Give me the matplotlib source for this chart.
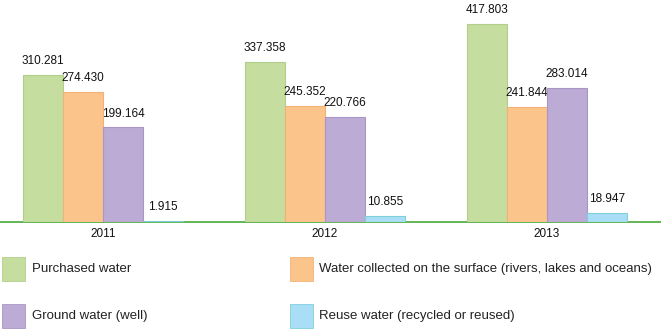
import matplotlib
matplotlib.use("Agg")
import matplotlib.pyplot as plt
from matplotlib.patches import Rectangle
import numpy as np

plt.rcParams['font.family'] = ['Liberation Sans', 'DejaVu Sans']

years = ["2011", "2012", "2013"]
series_names = [
    "Purchased water",
    "Water collected on the surface (rivers, lakes and oceans)",
    "Ground water (well)",
    "Reuse water (recycled or reused)",
]
purchased = [310.281, 337.358, 417.803]
surface = [274.430, 245.352, 241.844]
ground = [199.164, 220.766, 283.014]
reuse = [1.915, 10.855, 18.947]
series_values = [purchased, surface, ground, reuse]

colors = ["#c5dd9f", "#fbc48b", "#bcabd5", "#a9def6"]
edges = ["#b0cf88", "#f2b275", "#a996c6", "#7fd0dc"]

W, H = 661, 331
fig = plt.figure(figsize=(W / 100, H / 100), dpi=100)
base_px = 221.5
ax = fig.add_axes([0, (H - base_px) / H, 1, base_px / H])

x = np.arange(len(years))
bw = 0.18
for i, (vals, c, ec) in enumerate(zip(series_values, colors, edges)):
    pos = x + (i - 1.5) * bw
    bars = ax.bar(pos, vals, width=bw, color=c, edgecolor=ec, linewidth=0.8, zorder=3)
    for b, v in zip(bars, vals):
        ax.annotate(f"{v:.3f}", (b.get_x() + b.get_width() / 2, v),
                    xytext=(0, 10), textcoords="offset points",
                    ha="center", va="center", fontsize=8.5, color="#111111")

ax.set_ylim(0, base_px / 0.472)
ax.set_xlim(-103 / 222, (W - 103) / 222)
for s in ["top", "right", "left"]:
    ax.spines[s].set_visible(False)
ax.spines["bottom"].set_color("#4aa83a")
ax.spines["bottom"].set_linewidth(1.2)
ax.set_yticks([])
ax.set_xticks(x)
ax.set_xticklabels(years, fontsize=8.5, color="#111111")
ax.tick_params(axis="x", length=0, pad=5)

# legend (manual, two columns)
leg_pos = [(2, 257, 32), (290, 257, 319), (2, 304, 32), (290, 304, 319)]
for (sx, sy, tx), name, c, ec in zip(leg_pos, series_names, colors, edges):
    fig.add_artist(Rectangle((sx / W, 1 - (sy + 24) / H), 23 / W, 24 / H,
                             transform=fig.transFigure, facecolor=c,
                             edgecolor=ec, linewidth=0.6))
    fig.text(tx / W, 1 - (sy + 12) / H, name, fontsize=9.5, va="center",
             ha="left", color="#222222")

fig.savefig("out.png", dpi=100)
